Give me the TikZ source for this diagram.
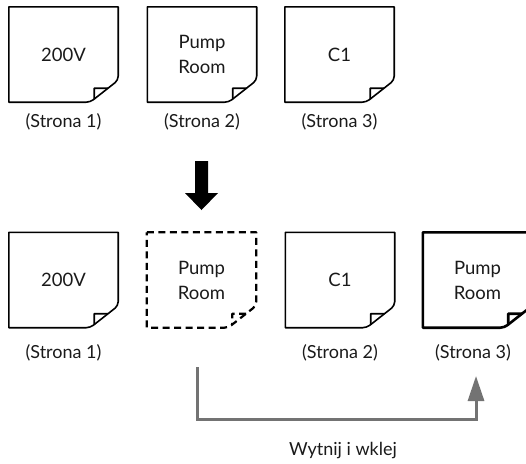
\documentclass[tikz,border=0pt]{standalone}
\usepackage{fontspec}
\setmainfont{Lato}
\usetikzlibrary{calc,arrows.meta}
\definecolor{conngray}{HTML}{737373}
\definecolor{inkcol}{HTML}{1A1A1A}
\tikzset{
  pagebox/.style={minimum width=109pt, minimum height=95pt, inner sep=0pt, align=center,
                  font=\fontsize{18.5}{25}\selectfont, text=inkcol},
  lbl/.style={font=\fontsize{18}{23}\selectfont, inner sep=0pt, text=inkcol},
  outline/.style={line width=1.6pt, line join=round},
  dashedline/.style={line width=2.2pt, dash pattern=on 7pt off 4.5pt},
  thickline/.style={line width=2.6pt},
  conn/.style={draw=conngray, line width=3pt, -{Triangle[width=16pt,length=25pt]}},
}
\newcommand{\pageout}[2]{%
  \coordinate (#1-a) at ($(#1.south east)+(0,-22)$);
  \coordinate (#1-b) at ($(#1.south east)+(-28,0)$);
  \coordinate (#1-f) at ($(#1.south east)+(-24,-14)$);
  \draw[outline,#2] (#1.north west) -- (#1.north east) -- ($(#1.south east)+(0,-30)$)
    [rounded corners=4pt] -- (#1-a) -- (#1-b) -- ($(#1.south east)+(-36,0)$)
    [sharp corners] -- (#1.south west) -- cycle;
  \draw[outline,#2] ($(#1-a)!0.364!(#1-b)$) -- (#1-f) -- ($(#1-a)!0.857!(#1-b)$);
}
\begin{document}
\begin{tikzpicture}[x=1pt,y=-1pt]
\useasboundingbox (0,0) rectangle (526,463);
% top row
\node[pagebox] (t1) at (63.5,54.5) {200V};
\node[pagebox] (t2) at (202,54.5) {Pump\\Room};
\node[pagebox] (t3) at (339.5,54.5) {C1};
\pageout{t1}{}
\pageout{t2}{}
\pageout{t3}{}
\node[lbl] (lt1) at (63.5,122) {(Strona 1)};
\node[lbl] (lt2) at (202,122) {(Strona 2)};
\node[lbl] (lt3) at (339.5,122) {(Strona 3)};
% down arrow
\fill (195,161) -- (208,161) -- (208,193) -- (218,193) -- (201.5,210) -- (185,193) -- (195,193) -- cycle;
% bottom row
\node[pagebox] (b1) at (63.5,280) {200V};
\node[pagebox] (b2) at (201.5,280) {Pump\\Room};
\node[pagebox] (b3) at (340,280) {C1};
\node[pagebox] (b4) at (477.5,280) {Pump\\Room};
\pageout{b1}{}
\pageout{b2}{dashedline}
\pageout{b3}{}
\pageout{b4}{thickline}
\node[lbl] (lb1) at (63.5,353) {(Strona 1)};
\node[lbl] (lb3) at (340,353) {(Strona 2)};
\node[lbl] (lb4) at (473,353) {(Strona 3)};
% cut and paste connector
\coordinate (cs) at (197,367);
\coordinate (ce) at (476,376);
\draw[conn] (cs) |- ($(ce)+(0,43)$) -- (ce);
\node[lbl] (cut) at (343,450) {Wytnij i wklej};
\end{tikzpicture}
\end{document}
